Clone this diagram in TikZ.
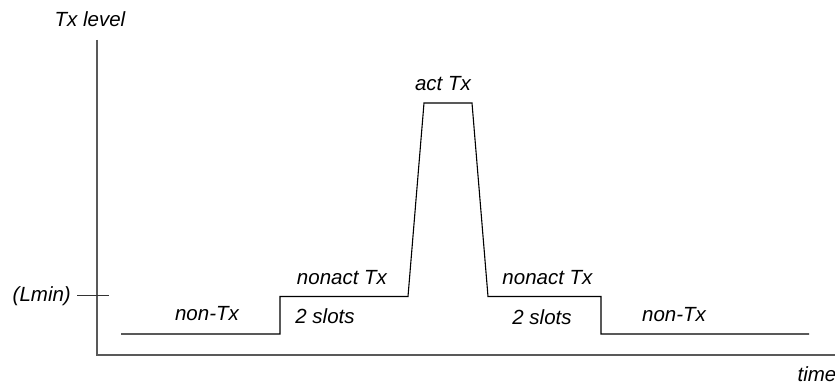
\documentclass[tikz,border=0pt]{standalone}
\usepackage{fontspec}
\setmainfont{Liberation Sans}
\begin{document}
\begin{tikzpicture}[x=1pt,y=-1pt,
  lbl/.style={font=\fontsize{20.5}{24}\selectfont\itshape, inner sep=0pt, anchor=center},
  axis/.style={draw=black!65, line width=1.4pt},
  sig/.style={draw=black, line width=1.1pt, line join=miter}]
\useasboundingbox (0,0) rectangle (835,387);
% axes
\coordinate (ytop) at (97,40);
\coordinate (orig) at (97,355);
\coordinate (xend) at (835,355);
\draw[axis] (ytop) -- (orig) -- (xend);
\coordinate (tl) at (77,296);
\coordinate (tr) at (109,296);
\draw[draw=black!80, line width=1pt] (tl) -- (tr);
% signal
\coordinate (s0) at (121,334);
\coordinate (s1) at (280,334);
\coordinate (s2) at (280,296.5);
\coordinate (s3) at (408,296.5);
\coordinate (s4) at (424,103);
\coordinate (s5) at (472,103);
\coordinate (s6) at (488,296.5);
\coordinate (s7) at (601,296.5);
\coordinate (s8) at (601,334);
\coordinate (s9) at (809,334);
\draw[sig] (s0) -- (s1) -- (s2) -- (s3) -- (s4) -- (s5) -- (s6) -- (s7) -- (s8) -- (s9);
% labels
\node[lbl] (txlevel) at (90,19) {Tx level};
\node[lbl, anchor=east] (lmin) at (71,296) {(Lmin)};
\node[lbl] (act) at (443,84) {act Tx};
\node[lbl] (na1) at (342,278) {nonact Tx};
\node[lbl] (sl1) at (325,316) {2 slots};
\node[lbl] (nt1) at (207,314) {non-Tx};
\node[lbl] (na2) at (547.5,278) {nonact Tx};
\node[lbl] (sl2) at (542,317) {2 slots};
\node[lbl] (nt2) at (674,315) {non-Tx};
\node[lbl] (time) at (817,374) {time};
\end{tikzpicture}
\end{document}
